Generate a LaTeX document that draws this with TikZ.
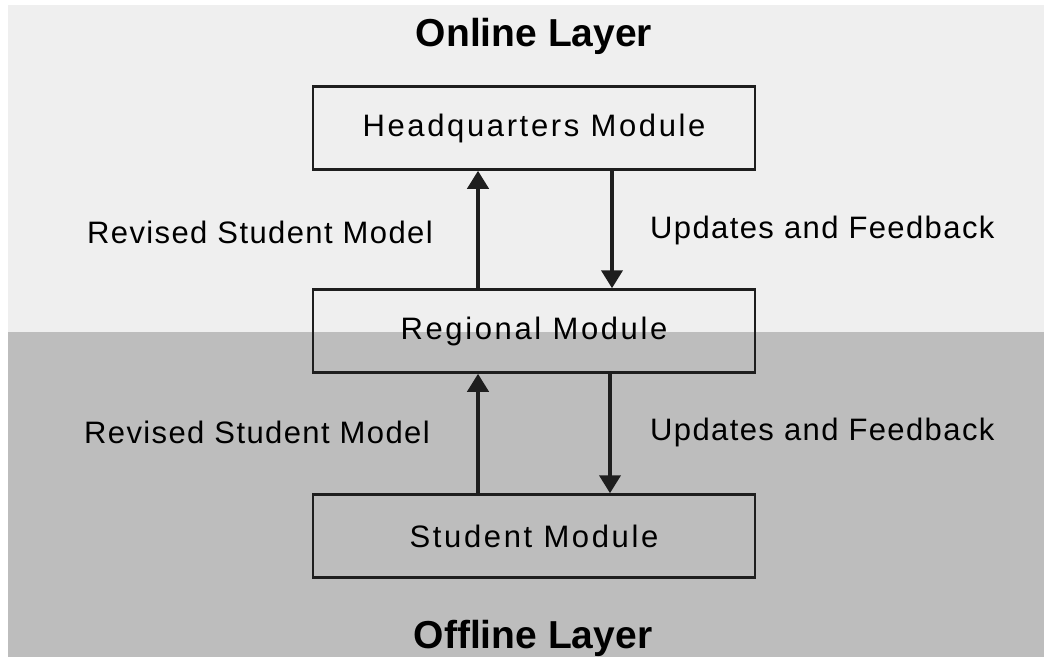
\documentclass[tikz,border=0pt]{standalone}
\usepackage{fontspec}
\setmainfont{Liberation Sans}
\newfontfamily\boxfont[LetterSpace=8.5]{Liberation Sans}
\newfontfamily\lblfont[LetterSpace=4.5]{Liberation Sans}
\usepackage{xcolor}
\usetikzlibrary{arrows.meta}
\definecolor{onlinebg}{HTML}{EFEFEF}
\definecolor{offlinebg}{HTML}{BDBDBD}
\definecolor{ink}{HTML}{1E1E1E}

\begin{document}
\begin{tikzpicture}[x=1pt,y=-1pt,
  module/.style={draw=ink,line width=2.5pt,minimum width=442pt,minimum height=83pt,inner sep=0pt,font=\boxfont\fontsize{31}{36}\selectfont},
  flow/.style={draw=ink,line width=4pt,-{Triangle[length=18pt,width=21pt]}},
  lbl/.style={inner sep=0pt,font=\lblfont\fontsize{31}{36}\selectfont},
  layer/.style={inner sep=0pt,font=\fontsize{39}{44}\selectfont\bfseries}]
\useasboundingbox (0,0) rectangle (1044,657);
\fill[white] (0,0) rectangle (1044,657);
\fill[onlinebg] (8,5) rectangle (1044,332);
\fill[offlinebg] (8,332) rectangle (1044,657);
%
\begin{scope}
\clip (0,0) rectangle (1044,657);
\node[layer] (online) at (534,36) {Online Layer};
\node[layer] (offline) at (533,638) {Offline Layer};
\end{scope}
%
\node[module] (hq) at (534,128) {Headquarters Module};
\node[module] (reg) at (534,331) {Regional Module};
\node[module] (stu) at (534,536) {Student Module};
%
\draw[flow] ([xshift=-56pt]reg.north) -- ([xshift=-56pt]hq.south);
\draw[flow] ([xshift=78pt]hq.south) -- ([xshift=78pt]reg.north);
\draw[flow] ([xshift=-56pt]stu.north) -- ([xshift=-56pt]reg.south);
\draw[flow] ([xshift=76pt]reg.south) -- ([xshift=76pt]stu.north);
%
\node[lbl,anchor=east] (rev1) at (433,232) {Revised Student Model};
\node[lbl,anchor=west] (upd1) at (650,230) {Updates and Feedback};
\node[lbl,anchor=east] (rev2) at (430,432) {Revised Student Model};
\node[lbl,anchor=west] (upd2) at (650,432) {Updates and Feedback};
%
\end{tikzpicture}
\end{document}
